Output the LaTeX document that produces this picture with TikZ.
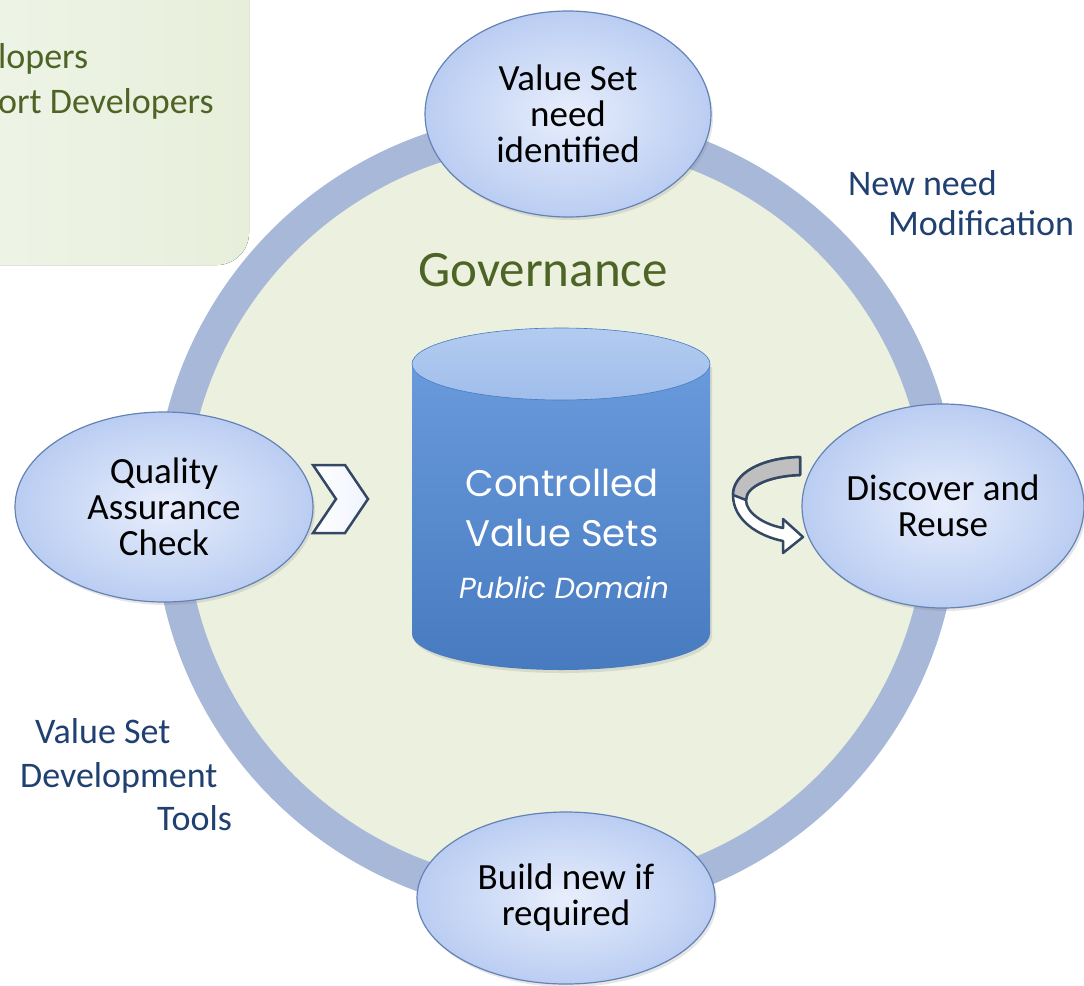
\documentclass[tikz,border=0pt]{standalone}
\usepackage{fontspec}
\setmainfont{Carlito}
\newfontfamily\cylfont{Poppins}
\usetikzlibrary{shapes.geometric,shadows}

\definecolor{ringblue}{RGB}{168,184,216}
\definecolor{govfill}{RGB}{235,241,222}
\definecolor{boxleft}{RGB}{240,245,232}
\definecolor{boxright}{RGB}{231,239,219}
\definecolor{ellin}{RGB}{232,238,252}
\definecolor{ellout}{RGB}{186,205,242}
\definecolor{elldraw}{RGB}{100,130,182}
\definecolor{olivetext}{RGB}{78,100,38}
\definecolor{navytext}{RGB}{31,64,112}
\definecolor{cyltop}{RGB}{104,154,220}
\definecolor{cylbottom}{RGB}{72,122,192}
\definecolor{cylcap}{RGB}{160,190,236}
\definecolor{arrowline}{RGB}{52,72,102}

\begin{document}
\begin{tikzpicture}[x=1pt,y=-1pt,
  stage/.style={ellipse,draw=elldraw,line width=1.2pt,inner color=ellin,outer color=ellout,
    drop shadow={opacity=0.2,shadow xshift=2pt,shadow yshift=-3pt},
    font=\fontsize{37}{36}\selectfont,align=center,inner sep=0pt},
  sidetext/.style={text=navytext,font=\fontsize{36}{36}\selectfont,anchor=base west,inner sep=0pt},
  greentext/.style={text=olivetext,font=\fontsize{36}{40}\selectfont,anchor=base west,inner sep=0pt}]
\useasboundingbox (0,0) rectangle (1084,985);
\clip (0,0) rectangle (1084,985);

% box top left
\fill[left color=boxleft,right color=boxright,rounded corners=32pt] (-60,-60) rectangle (249,265);
\node[greentext] (dev1) at (-2,68) {lopers};
\node[greentext] (dev2) at (-2,113) {ort Developers};

% governance ring
\draw[ringblue,line width=32pt,fill=govfill] (556,514) circle[radius=386];
\node[text=olivetext,font=\fontsize{51}{52}\selectfont] (gov) at (543,270) {Governance};

% cylinder
\shade[top color=cyltop,bottom color=cylbottom,drop shadow={opacity=0.2,shadow xshift=2pt,shadow yshift=-3pt}]
  (412,364) -- (412,634) arc[start angle=180,end angle=0,x radius=149,y radius=36] -- (710,364) -- cycle;
\shade[top color=cylcap!80!white,bottom color=cylcap,draw=cylbottom,line width=0.6pt]
  (561,364) ellipse[x radius=149,y radius=36];
\node[text=white,font=\cylfont\fontsize{37}{50}\selectfont,align=center] (cvs) at (562,508) {Controlled\\Value Sets};
\node[text=white,font=\cylfont\itshape\fontsize{29}{30}\selectfont] (pd) at (564,588) {Public Domain};

% chevron
\shade[left color=white,right color=ellin!70!white,draw=arrowline,line width=2.5pt,line join=miter]
  (313,465) -- (345,465) -- (368,499) -- (345,533) -- (313,533) -- (336,499) -- cycle;

% turn arrow
\filldraw[fill=white,draw=arrowline,line width=2.5pt,line join=round]
  (800,457) .. controls (760,458) and (733,474) .. (733,495)
  .. controls (733,520) and (758,536) .. (783,541) -- (783,553) -- (803,537) -- (783,519) -- (783,528)
  .. controls (762,524) and (746,512) .. (746,500)
  .. controls (746,486) and (770,476) .. (800,475) -- cycle;
\filldraw[fill=black!25,draw=arrowline,line width=2.5pt,line join=round]
  (800,457) .. controls (760,458) and (733,474) .. (733,495)
  -- (746,500) .. controls (746,486) and (770,476) .. (800,475) -- cycle;

% stages
\node[stage,minimum width=286pt,minimum height=206pt] (need) at (568,114) {Value Set\\need\\identified};
\node[stage,minimum width=298pt,minimum height=190pt] (qa) at (164,507) {Quality\\Assurance\\Check};
\node[stage,minimum width=282pt,minimum height=204pt] (reuse) at (943,506) {Discover and\\Reuse};
\node[stage,minimum width=298pt,minimum height=172pt] (build) at (566,898) {Build new if\\required};

% side labels
\node[sidetext] (nn) at (848,195) {New need};
\node[sidetext] (mod) at (888,235) {Modification};
\node[sidetext] (vs) at (35,743) {Value Set};
\node[sidetext] (dv) at (20,787) {Development};
\node[sidetext] (tl) at (157,830) {Tools};
\end{tikzpicture}
\end{document}
